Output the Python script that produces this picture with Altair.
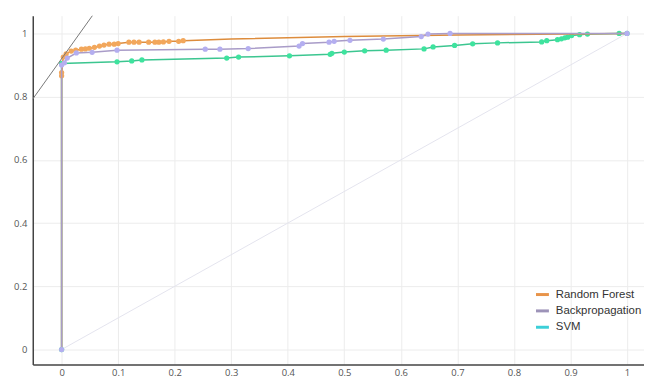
import altair as alt
import pandas as pd

# Random Forest ROC (markers), then line-only tail
rf_fpr = [0, 0, 0, 0.003, 0.008, 0.017, 0.025, 0.035, 0.042, 0.049, 0.058, 0.067, 0.075, 0.084, 0.093, 0.1, 0.119, 0.128, 0.137, 0.154, 0.165, 0.172, 0.18, 0.19, 0.207, 0.215]
rf_tpr = [0, 0.866, 0.876, 0.925, 0.935, 0.944, 0.947, 0.95, 0.951, 0.953, 0.956, 0.96, 0.963, 0.966, 0.966, 0.968, 0.972, 0.972, 0.972, 0.972, 0.972, 0.972, 0.973, 0.975, 0.975, 0.977]
rf_tail_fpr = [0.3, 0.5, 0.7, 1.0]
rf_tail_tpr = [0.982, 0.99, 0.995, 1.0]

bp_fpr = [0, 0, 0.005, 0.01, 0.026, 0.054, 0.098, 0.254, 0.28, 0.33, 0.42, 0.426, 0.473, 0.482, 0.51, 0.569, 0.636, 0.648, 0.687, 1.0]
bp_tpr = [0, 0.9, 0.907, 0.922, 0.938, 0.94, 0.947, 0.95, 0.95, 0.952, 0.96, 0.968, 0.972, 0.975, 0.978, 0.982, 0.99, 0.998, 1.0, 1.0]

svm_fpr = [0, 0, 0.098, 0.124, 0.142, 0.292, 0.313, 0.403, 0.475, 0.478, 0.5, 0.536, 0.574, 0.641, 0.657, 0.695, 0.727, 0.771, 0.849, 0.858, 0.877, 0.884, 0.89, 0.895, 0.902, 0.916, 0.93, 0.986, 1.0]
svm_tpr = [0, 0.905, 0.91, 0.913, 0.916, 0.922, 0.925, 0.929, 0.934, 0.937, 0.941, 0.945, 0.947, 0.951, 0.957, 0.962, 0.967, 0.97, 0.973, 0.977, 0.98, 0.983, 0.986, 0.988, 0.993, 0.996, 0.998, 1.0, 1.0]

series_names = ["Random Forest", "Backpropagation", "SVM"]
legend_colors = ["#e8944a", "#9d93b8", "#3ccfd8"]
x_ticks = [0, 0.1, 0.2, 0.3, 0.4, 0.5, 0.6, 0.7, 0.8, 0.9, 1]
y_ticks = [0, 0.2, 0.4, 0.6, 0.8, 1]

diag_x = [0, 1]
diag_y = [0, 1]
tangent_x = [-0.06, 0.06]
tangent_y = [0.77, 1.07]

XS = alt.Scale(domain=[-0.051, 1.03], nice=False, zero=False)
YS = alt.Scale(domain=[-0.047, 1.056], nice=False, zero=False)

xenc = alt.X("x:Q", scale=XS, title=None,
             axis=alt.Axis(values=x_ticks, format="~g", grid=True, ticks=False,
                           labelPadding=3, domainColor="#444", domainWidth=1.5,
                           gridColor="#ececec", labelColor="#555", labelFontSize=9.5,
                           labelFont="Open Sans"))
yenc = alt.Y("y:Q", scale=YS, title=None,
             axis=alt.Axis(values=y_ticks, format="~g", grid=True, ticks=False,
                           labelPadding=6, domainColor="#444", domainWidth=1.5,
                           gridColor="#ececec", labelColor="#555", labelFontSize=9.5,
                           labelFont="Open Sans"))


def df(xs, ys):
    return pd.DataFrame({"x": xs, "y": ys})


diag = alt.Chart(df(diag_x, diag_y)).mark_line(color="#e4e4ee", strokeWidth=1).encode(x=xenc, y=yenc)
tang = alt.Chart(df(tangent_x, tangent_y)).mark_line(color="#777", strokeWidth=1, clip=True).encode(x=xenc, y=yenc)

layers = [diag]

svm_df = df(svm_fpr, svm_tpr)
layers.append(alt.Chart(svm_df).mark_line(color="#3cc690", strokeWidth=1.5).encode(x=xenc, y=yenc))
layers.append(alt.Chart(svm_df).mark_circle(color="#3ee39e", size=28, opacity=1).encode(x=xenc, y=yenc))

rf_line_df = df(rf_fpr + rf_tail_fpr, rf_tpr + rf_tail_tpr)
rf_pt_df = df(rf_fpr[1:], rf_tpr[1:])
layers.append(alt.Chart(rf_line_df).mark_line(color="#dd8c3c", strokeWidth=1.5).encode(x=xenc, y=yenc))
layers.append(alt.Chart(rf_pt_df).mark_circle(color="#f2a75c", size=28, opacity=1).encode(x=xenc, y=yenc))

bp_df = df(bp_fpr, bp_tpr)
layers.append(alt.Chart(bp_df).mark_line(color="#a99cc8", strokeWidth=1.5).encode(x=xenc, y=yenc))
layers.append(alt.Chart(bp_df).mark_circle(color="#b4aef0", size=28, opacity=1).encode(x=xenc, y=yenc))

layers.append(tang)

legend_df = pd.DataFrame({"x": [0, 0, 0], "y": [0, 0, 0], "s": series_names})
legend_layer = alt.Chart(legend_df).mark_point(opacity=0).encode(
    x=xenc, y=yenc,
    color=alt.Color("s:N", scale=alt.Scale(domain=series_names, range=legend_colors),
                    legend=alt.Legend(title=None, orient="none", legendX=506, legendY=273,
                                      symbolType="stroke", symbolStrokeWidth=3, symbolSize=170,
                                      symbolOpacity=1, labelFont="Liberation Sans", labelFontSize=11.5,
                                      labelColor="#333", rowPadding=1.5, labelOffset=5)))
layers.append(legend_layer)

chart = alt.layer(*layers).properties(
    width=617, height=352,
    autosize=alt.AutoSizeParams(type="none"),
    padding={"left": 25, "top": 6, "right": 0, "bottom": 15},
).configure_view(stroke=None)

chart.save("out.html", embed_options={"renderer": "svg", "actions": False})
